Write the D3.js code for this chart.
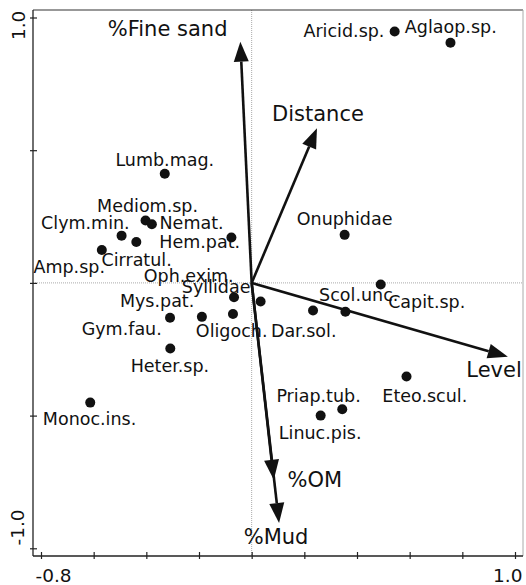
<!DOCTYPE html>
<html>
<head>
<meta charset="utf-8">
<script src="https://cdn.jsdelivr.net/npm/d3@7"></script>
<style>
  html, body { margin: 0; padding: 0; background: #fff; }
  svg { display: block; }
  text { font-family: "DejaVu Sans", Verdana, sans-serif; fill: #111; }
</style>
</head>
<body>
<svg id="chart" width="526" height="585"></svg>
<script>
// Species scores (axis 1, axis 2)
const speciesNames = [
  "Aricid.sp.", "Aglaop.sp.", "Lumb.mag.", "Mediom.sp.", "Nemat.", "Clym.min.",
  "Cirratul.", "Amp.sp.", "Hem.pat.", "Onuphidae", "Capit.sp.", "Scol.unc.",
  "Dar.sol.", "Syllidae", "Oph.exim.", "Oligoch.", "Mys.pat.", "Gym.fau.",
  "Heter.sp.", "Monoc.ins.", "Eteo.scul.", "Priap.tub.", "Linuc.pis."
];
const speciesX = [
   0.543,  0.755, -0.330, -0.403, -0.379, -0.494,
  -0.438, -0.569, -0.077,  0.353,  0.490,  0.356,
   0.233,  0.034, -0.067, -0.071, -0.189, -0.310,
  -0.309, -0.613,  0.588,  0.344,  0.262
];
const speciesY = [
   0.947,  0.905,  0.411,  0.235,  0.221,  0.178,
   0.154,  0.124,  0.171,  0.181, -0.006, -0.109,
  -0.104, -0.070, -0.054, -0.117, -0.128, -0.131,
  -0.247, -0.451, -0.353, -0.476, -0.500
];

// Environmental variable vectors
const envNames = ["%Fine sand", "Distance", "Level", "%OM", "%Mud"];
const envX = [-0.043, 0.248, 0.973, 0.084, 0.104];
const envY = [ 0.909, 0.583, -0.278, -0.742, -0.905];

// Axis ticks
const xTicks = [-0.8, -0.6, -0.4, -0.2, 0.0, 0.2, 0.4, 0.6, 0.8, 1.0];
const xTickLabels = ["-0.8", "", "", "", "", "", "", "", "", "1.0"];
const yTicks = [-1.0, -0.5, 0.0, 0.5, 1.0];
const yTickLabels = ["-1.0", "", "", "", "1.0"];

// Label placement (pixel offsets from each point: dx, dy to the text baseline centre)
const speciesLabelOffset = [
  [-50.7, 5], [0.3, -9.4], [0, -8.3], [2, -9], [39.7, 5], [-36.2, -6.4],
  [0.3, 24], [-32.6, 22.7], [-31.7, 10.6], [0, -10], [46, 23.6], [13.3, -11.3],
  [-9.3, 26.3], [-44.5, -8.7], [-45.3, -15.6], [-1.3, 23], [-44.8, -10], [-48.3, 17.3],
  [-0.4, 24], [-0.7, 22.3], [18.3, 25], [-23.7, -7.6], [-0.5, 23.6]
];
const envLabelOffset = [
  [-72.7, -5.7], [1, -7.6], [-13.8, 20], [41, 6.7], [-3, 21]
];

const svg = d3.select("#chart");
const frame = { left: 33, right: 523, top: 10, bottom: 556 };

const x = d3.scaleLinear().domain([-0.8, 1.0]).range([41, 515]);
const y = d3.scaleLinear().domain([-1.0, 1.0]).range([548.3, 17.5]);

// zero lines
svg.append("line")
  .attr("x1", frame.left).attr("x2", frame.right)
  .attr("y1", y(0)).attr("y2", y(0))
  .attr("stroke", "#aaa").attr("stroke-width", 1).attr("stroke-dasharray", "1,1");
svg.append("line")
  .attr("x1", x(0)).attr("x2", x(0))
  .attr("y1", frame.top).attr("y2", frame.bottom)
  .attr("stroke", "#aaa").attr("stroke-width", 1).attr("stroke-dasharray", "1,1");

// frame: top and right edges
svg.append("line")
  .attr("x1", frame.left).attr("x2", frame.right)
  .attr("y1", frame.top).attr("y2", frame.top)
  .attr("stroke", "#333").attr("stroke-width", 1.2);
svg.append("line")
  .attr("x1", frame.right).attr("x2", frame.right)
  .attr("y1", frame.top).attr("y2", frame.bottom)
  .attr("stroke", "#aaa").attr("stroke-width", 1);

// bottom axis
const gx = svg.append("g")
  .attr("transform", `translate(0,${frame.bottom})`)
  .call(d3.axisBottom(x).tickValues(xTicks)
    .tickFormat((d, i) => xTickLabels[i]).tickSizeOuter(0));
gx.select(".domain").remove();
gx.selectAll(".tick line").attr("y1", -4).attr("y2", 3)
  .attr("stroke", "#222").attr("stroke-width", 1.2);
gx.selectAll(".tick text")
  .attr("y", 26).attr("dy", 0)
  .style("font-size", "18.5px")
  .attr("text-anchor", (d, i) => i === 0 ? "start" : (i === xTicks.length - 1 ? "end" : "middle"))
  .attr("x", (d, i) => i === 0 ? -6 : (i === xTicks.length - 1 ? 7 : 0));
svg.append("line")
  .attr("x1", frame.left).attr("x2", frame.right)
  .attr("y1", frame.bottom).attr("y2", frame.bottom)
  .attr("stroke", "#222").attr("stroke-width", 1.3);

// left axis
const gy = svg.append("g")
  .attr("transform", `translate(${frame.left},0)`)
  .call(d3.axisLeft(y).tickValues(yTicks)
    .tickFormat((d, i) => yTickLabels[i]).tickSizeOuter(0));
gy.select(".domain").remove();
gy.selectAll(".tick line").attr("x1", -3).attr("x2", 4)
  .attr("stroke", "#222").attr("stroke-width", 1.2);
gy.selectAll(".tick text")
  .attr("x", 0).attr("y", 0).attr("dy", 0)
  .style("font-size", "18.5px")
  .attr("text-anchor", (d, i) => i === 0 ? "start" : "end")
  .attr("transform", (d, i) => i === 0 ? "translate(-9,-3.3) rotate(-90)" : "translate(-8,-7.3) rotate(-90)");
svg.append("line")
  .attr("x1", frame.left).attr("x2", frame.left)
  .attr("y1", frame.top).attr("y2", frame.bottom)
  .attr("stroke", "#222").attr("stroke-width", 1.3);

// environmental arrows
const headLen = 20, headHalf = 7.5;
const arrows = svg.append("g");
envNames.forEach((name, i) => {
  const x0 = x(0), y0 = y(0), x1 = x(envX[i]), y1 = y(envY[i]);
  const ang = Math.atan2(y1 - y0, x1 - x0);
  const bx = x1 - headLen * Math.cos(ang), by = y1 - headLen * Math.sin(ang);
  arrows.append("line")
    .attr("x1", x0).attr("y1", y0).attr("x2", bx).attr("y2", by)
    .attr("stroke", "#111").attr("stroke-width", 2.6);
  const px = -Math.sin(ang), py = Math.cos(ang);
  arrows.append("path")
    .attr("d", `M${x1},${y1}L${bx + headHalf * px},${by + headHalf * py}L${bx - headHalf * px},${by - headHalf * py}Z`)
    .attr("fill", "#111");
  arrows.append("text")
    .attr("x", x1 + envLabelOffset[i][0]).attr("y", y1 + envLabelOffset[i][1])
    .attr("text-anchor", "middle")
    .style("font-size", "21px")
    .text(name);
});

// species points and labels
const pts = svg.append("g");
speciesNames.forEach((name, i) => {
  const cx = x(speciesX[i]), cy = y(speciesY[i]);
  pts.append("circle").attr("cx", cx).attr("cy", cy).attr("r", 5).attr("fill", "#111");
});
speciesNames.forEach((name, i) => {
  const cx = x(speciesX[i]), cy = y(speciesY[i]);
  pts.append("text")
    .attr("x", cx + speciesLabelOffset[i][0]).attr("y", cy + speciesLabelOffset[i][1])
    .attr("text-anchor", "middle")
    .style("font-size", "17.5px")
    .text(name);
});
</script>
</body>
</html>
